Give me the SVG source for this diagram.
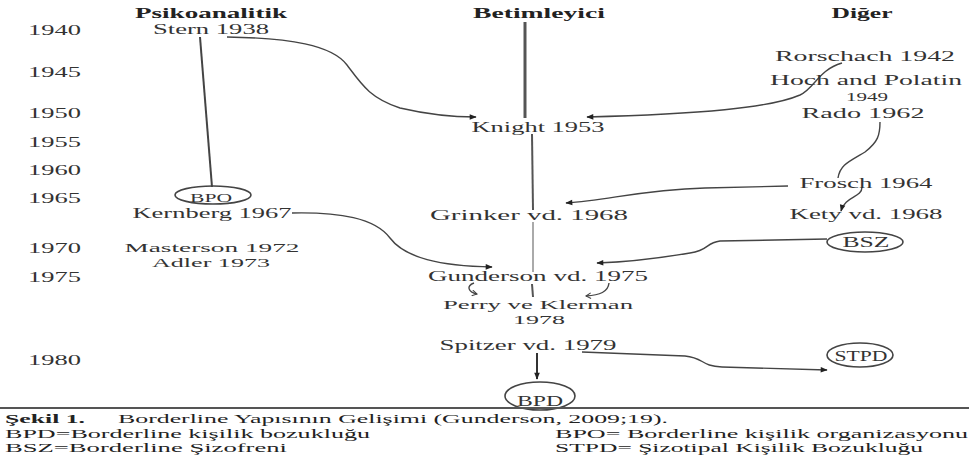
<svg xmlns="http://www.w3.org/2000/svg" width="969" height="460" viewBox="0 0 969 460">
<style>
text{font-family:"Liberation Serif","Times New Roman",serif;font-size:14px;fill:#333}
.m{text-anchor:middle}
.b{font-weight:bold;fill:#222;font-size:15px}
.sm{font-size:13.5px}
.ln{fill:none;stroke:#444;stroke-width:1.4}
.cap{font-size:12.5px;fill:#222}
.capb{font-size:12.5px;font-weight:bold;fill:#222}
.el{fill:none;stroke:#444;stroke-width:1.6}
</style>
<defs>
<marker id="ah" viewBox="0 0 10 10" refX="9" refY="5" markerWidth="9" markerHeight="7" orient="auto" markerUnits="userSpaceOnUse"><path d="M0,1 L10,5 L0,9 z" fill="#222"/></marker>
<marker id="oh" viewBox="0 0 10 10" refX="8" refY="5" markerWidth="7" markerHeight="7" orient="auto" markerUnits="userSpaceOnUse"><path d="M1,1 L8,5 L1,9" fill="none" stroke="#444" stroke-width="1.5"/></marker>
</defs>
<rect width="969" height="460" fill="#fff"/>

<g id="years">
<text x="28" y="35" textLength="53" lengthAdjust="spacingAndGlyphs">1940</text>
<text x="28" y="77" textLength="53" lengthAdjust="spacingAndGlyphs">1945</text>
<text x="28" y="118" textLength="53" lengthAdjust="spacingAndGlyphs">1950</text>
<text x="28" y="147" textLength="53" lengthAdjust="spacingAndGlyphs">1955</text>
<text x="28" y="175" textLength="53" lengthAdjust="spacingAndGlyphs">1960</text>
<text x="28" y="203" textLength="53" lengthAdjust="spacingAndGlyphs">1965</text>
<text x="28" y="253" textLength="53" lengthAdjust="spacingAndGlyphs">1970</text>
<text x="28" y="282" textLength="53" lengthAdjust="spacingAndGlyphs">1975</text>
<text x="28" y="365" textLength="53" lengthAdjust="spacingAndGlyphs">1980</text>
</g>

<g id="headers">
<text class="m b" x="211" y="18" textLength="152" lengthAdjust="spacingAndGlyphs">Psikoanalitik</text>
<text class="m b" x="539" y="18" textLength="132" lengthAdjust="spacingAndGlyphs">Betimleyici</text>
<text class="m b" x="862" y="18" textLength="61" lengthAdjust="spacingAndGlyphs">Diğer</text>
</g>

<g id="connectors">
<line x1="525" y1="22" x2="525" y2="118" stroke="#555" stroke-width="3"/>
<line x1="532" y1="134" x2="533" y2="210" stroke="#555" stroke-width="2"/>
<line x1="533" y1="222" x2="533" y2="272" stroke="#aaa" stroke-width="2"/>
<line x1="532" y1="284" x2="533" y2="297" stroke="#555" stroke-width="2"/>
<line x1="200" y1="37" x2="212" y2="187" stroke="#444" stroke-width="2"/>
<path class="ln" d="M227,37 C290,38 332,45 347,65 C362,85 370,98 400,108 C430,115 455,117 476,117" marker-end="url(#ah)"/>
<path class="ln" d="M842,63 C818,70 815,88 800,95 C770,108 700,114 587,117" marker-end="url(#ah)"/>
<path class="ln" d="M880,122 C880,135 878,142 865,152 C848,162 840,165 838,178"/>
<path class="ln" d="M788,186 L705,188 C640,190 610,200 566,203" marker-end="url(#ah)"/>
<path class="ln" d="M862,187 C862,198 845,196 841,211" marker-end="url(#ah)"/>
<path class="ln" d="M292,213 C340,212 375,218 390,238 C405,258 440,266 492,267" marker-end="url(#ah)"/>
<path class="ln" d="M827,239 L720,241 C705,243 710,250 690,253 C660,258 630,262 597,263" marker-end="url(#ah)"/>
<path class="ln" d="M474,283 C466,286 468,292 477,294" marker-end="url(#oh)"/>
<path class="ln" d="M609,283 C608,292 600,295 586,296" marker-end="url(#oh)"/>
<line x1="537" y1="353" x2="537" y2="379" stroke="#333" stroke-width="2" marker-end="url(#ah)"/>
<path class="ln" d="M582,352 L685,356 C705,358 700,366 722,367 L827,370" marker-end="url(#ah)"/>
</g>

<g id="stern"><text class="m" x="211" y="34" textLength="116" lengthAdjust="spacingAndGlyphs">Stern 1938</text></g>
<g id="knight"><text class="m" x="538" y="132" textLength="133" lengthAdjust="spacingAndGlyphs">Knight 1953</text></g>
<g id="rorschach"><text class="m" x="865" y="61" textLength="180" lengthAdjust="spacingAndGlyphs">Rorschach 1942</text></g>
<g id="hoch">
<text class="m" x="866" y="85" textLength="192" lengthAdjust="spacingAndGlyphs">Hoch and Polatin</text>
<text class="m sm" x="867" y="101" textLength="42" lengthAdjust="spacingAndGlyphs">1949</text>
</g>
<g id="rado"><text class="m" x="863" y="118" textLength="123" lengthAdjust="spacingAndGlyphs">Rado 1962</text></g>
<g id="frosch"><text class="m" x="866" y="188" textLength="133" lengthAdjust="spacingAndGlyphs">Frosch 1964</text></g>
<g id="kety"><text class="m" x="866" y="219" textLength="153" lengthAdjust="spacingAndGlyphs">Kety vd. 1968</text></g>
<g id="grinker"><text class="m" x="529" y="220" textLength="198" lengthAdjust="spacingAndGlyphs">Grinker vd. 1968</text></g>
<g id="bpo">
<ellipse class="el" cx="213" cy="195" rx="38" ry="9"/>
<text class="m" x="211" y="202" style="font-size:12px" textLength="42" lengthAdjust="spacingAndGlyphs">BPO</text>
</g>
<g id="kernberg"><text class="m" x="212" y="218" textLength="159" lengthAdjust="spacingAndGlyphs">Kernberg 1967</text></g>
<g id="masterson"><text class="m sm" x="212" y="252" textLength="175" lengthAdjust="spacingAndGlyphs">Masterson 1972</text></g>
<g id="adler"><text class="m sm" x="211" y="267" textLength="118" lengthAdjust="spacingAndGlyphs">Adler 1973</text></g>
<g id="bsz">
<ellipse class="el" cx="865" cy="242" rx="38" ry="10"/>
<text class="m" x="866" y="247" textLength="47" lengthAdjust="spacingAndGlyphs">BSZ</text>
</g>
<g id="gunderson"><text class="m" x="538" y="281" textLength="220" lengthAdjust="spacingAndGlyphs">Gunderson vd. 1975</text></g>
<g id="perry">
<text class="m sm" x="538" y="309" textLength="190" lengthAdjust="spacingAndGlyphs">Perry ve Klerman</text>
<text class="m sm" x="539" y="324" textLength="52" lengthAdjust="spacingAndGlyphs">1978</text>
</g>
<g id="spitzer"><text class="m" x="528" y="350" textLength="177" lengthAdjust="spacingAndGlyphs">Spitzer vd. 1979</text></g>
<g id="stpd">
<ellipse class="el" cx="860" cy="355" rx="33" ry="12"/>
<text class="m" x="861" y="361" textLength="53" lengthAdjust="spacingAndGlyphs">STPD</text>
</g>
<g id="bpd">
<ellipse class="el" cx="540" cy="396" rx="35" ry="14"/>
<text class="m" x="540" y="406" textLength="46" lengthAdjust="spacingAndGlyphs">BPD</text>
</g>

<g id="caption">
<rect x="0" y="407" width="969" height="2" fill="#555"/>
<text class="capb" x="5" y="423" textLength="80" lengthAdjust="spacingAndGlyphs">Şekil 1.</text>
<text class="cap" x="118" y="423" textLength="550" lengthAdjust="spacingAndGlyphs">Borderline Yapısının Gelişimi (Gunderson, 2009;19).</text>
<text class="cap" x="5" y="437.5" textLength="365" lengthAdjust="spacingAndGlyphs">BPD=Borderline kişilik bozukluğu</text>
<text class="cap" x="5" y="452" textLength="282" lengthAdjust="spacingAndGlyphs">BSZ=Borderline Şizofreni</text>
<text class="cap" x="555" y="437.5" textLength="413" lengthAdjust="spacingAndGlyphs">BPO= Borderline kişilik organizasyonu</text>
<text class="cap" x="555" y="452" textLength="368" lengthAdjust="spacingAndGlyphs">STPD= Şizotipal Kişilik Bozukluğu</text>
</g>
</svg>
